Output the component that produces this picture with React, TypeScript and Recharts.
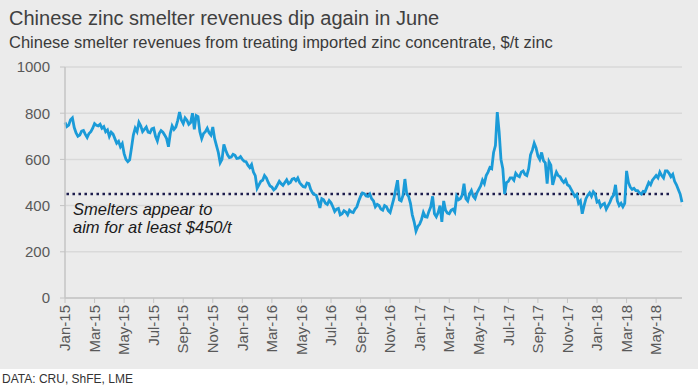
import { LineChart, Line, XAxis, YAxis, CartesianGrid, ReferenceLine } from 'recharts';

// Chinese smelter revenues from treating imported zinc concentrate, $/t zinc
// readings eight times a month (one row per month), starting Jan-15

const STEP = 0.125;

const REVENUE_2015 = [
  760, 742, 748, 772, 780, 738, 715, 700,
  705, 722, 725, 708, 695, 712, 720, 735,
  755, 748, 745, 752, 735, 742, 720, 728,
  700, 718, 710, 690, 670, 678, 655, 668,
  625, 600, 590, 598, 650, 705, 735, 720,
  760, 745, 720, 730, 740, 718, 715, 732,
  735, 700, 680, 712, 725, 718, 705, 690,
  655, 712, 745, 730, 740, 768, 805, 770,
  755, 780, 770, 752, 760, 800, 730, 790,
  785, 720, 690, 712, 720, 735, 715, 705,
  740, 690, 660, 630, 585, 600, 665, 640,
  620, 608, 610, 622, 618, 604, 605, 612,
];

const REVENUE_2016 = [
  600, 592, 590, 575, 565, 578, 545, 530,
  475, 490, 505, 510, 530, 520, 500, 485,
  480, 468, 475, 490, 505, 495, 488, 500,
  512, 495, 500, 515, 518, 508, 520, 500,
  490, 482, 480, 498, 495, 470, 455, 448,
  445, 420, 390, 430, 425, 410, 405, 422,
  412, 395, 375, 385, 388, 360, 365, 378,
  372, 360, 380, 372, 370, 385, 395, 420,
  440, 455, 452, 442, 440, 450, 430, 420,
  395, 405, 400, 385, 380, 400, 395, 378,
  370, 400, 430, 470, 510, 425, 420, 445,
  515, 450, 440, 410, 360, 330, 290, 310,
];

const REVENUE_2017 = [
  320, 340, 370, 352, 350, 375, 395, 440,
  365, 352, 370, 400, 330, 420, 380, 368,
  365, 380, 385, 372, 440, 425, 430, 445,
  495, 430, 420, 450, 465, 440, 430, 455,
  470, 485, 510, 495, 530, 545, 565, 560,
  630, 660, 805, 720, 600, 560, 450, 500,
  505, 520, 520, 510, 540, 530, 525, 545,
  550, 535, 530, 560, 620, 640, 670, 650,
  615, 600, 630, 595, 585, 495, 590, 575,
  490, 520, 545, 530, 525, 510, 500, 512,
  490, 485, 470, 455, 440, 448, 410, 420,
  365, 400, 430, 445, 455, 440, 460, 450,
];

const REVENUE_2018 = [
  415, 420, 395, 405, 410, 385, 400, 415,
  435, 445, 490, 420, 400, 410, 395, 410,
  550, 500, 480, 470, 475, 465, 465, 455,
  450, 462, 460, 480, 500, 490, 510, 520,
  530, 520, 545, 530, 520, 550, 550, 540,
  525, 535, 505, 490, 470, 450, 415,
];

const MONTH_TICKS = [0, 2, 4, 6, 8, 10, 12, 14, 16, 18, 20, 22, 24, 26, 28, 30, 32, 34, 36, 38, 40];
const MONTH_LABELS = [
  'Jan-15', 'Mar-15', 'May-15', 'Jul-15', 'Sep-15', 'Nov-15',
  'Jan-16', 'Mar-16', 'May-16', 'Jul-16', 'Sep-16', 'Nov-16',
  'Jan-17', 'Mar-17', 'May-17', 'Jul-17', 'Sep-17', 'Nov-17',
  'Jan-18', 'Mar-18', 'May-18',
];
const Y_TICKS = [0, 200, 400, 600, 800, 1000];

const TARGET = 450;
const TARGET_FROM = 0.1;
const TARGET_TO = 41;

const revenues = [...REVENUE_2015, ...REVENUE_2016, ...REVENUE_2017, ...REVENUE_2018];
const data = revenues.map((v, i) => ({ month: i * STEP, revenue: v }));

const FONT = '"Liberation Sans", Arial, sans-serif';
const AXIS_GREY = '#c4c4c4';

const MonthTick = ({ x, y, payload }: any) => {
  const idx = MONTH_TICKS.indexOf(payload.value);
  return (
    <text
      x={x}
      y={y}
      transform={`rotate(-90, ${x}, ${y})`}
      textAnchor="end"
      dy="0.35em"
      fontSize={15}
      fill="#595959"
      fontFamily={FONT}
    >
      {MONTH_LABELS[idx]}
    </text>
  );
};

export default function App() {
  return (
    <div style={{ width: 698, height: 387, position: 'relative', fontFamily: FONT, background: '#fff' }}>
      <style>{'body{margin:0}'}</style>
      <div style={{ position: 'absolute', left: 0, top: 0, width: 698, height: 369, background: '#ebebeb' }} />
      <div style={{ position: 'absolute', left: 9, top: 6, fontSize: 20, lineHeight: '24px', color: '#404040', whiteSpace: 'nowrap' }}>
        Chinese zinc smelter revenues dip again in June
      </div>
      <div style={{ position: 'absolute', left: 9, top: 32, fontSize: 16.5, lineHeight: '20px', color: '#3a3a3a', whiteSpace: 'nowrap' }}>
        Chinese smelter revenues from treating imported zinc concentrate, $/t zinc
      </div>

      <div style={{ position: 'absolute', left: 0, top: 0 }}>
        <LineChart width={698} height={369} data={data} margin={{ top: 67, right: 16, bottom: 11, left: 0 }}>
          <CartesianGrid vertical={false} stroke="#d9d9d9" strokeWidth={1.5} />
          <XAxis
            dataKey="month"
            type="number"
            domain={[0, 41.75]}
            ticks={MONTH_TICKS}
            interval={0}
            height={60}
            tick={<MonthTick />}
            tickSize={5}
            tickMargin={2}
            stroke={AXIS_GREY}
            axisLine={{ stroke: AXIS_GREY, strokeWidth: 1.5 }}
            tickLine={{ stroke: AXIS_GREY }}
          />
          <YAxis
            domain={[0, 1000]}
            ticks={Y_TICKS}
            width={65}
            tickSize={5}
            tickMargin={10}
            axisLine={{ stroke: AXIS_GREY, strokeWidth: 1.5 }}
            tickLine={{ stroke: AXIS_GREY }}
            tick={{ fontSize: 15, fill: '#595959', fontFamily: FONT }}
          />
          <ReferenceLine
            segment={[{ x: TARGET_FROM, y: TARGET }, { x: TARGET_TO, y: TARGET }]}
            stroke="#1c1c4c"
            strokeWidth={2.5}
            strokeDasharray="2.5 3.5"
          />
          <Line
            type="linear"
            dataKey="revenue"
            stroke="#1b9bd8"
            strokeWidth={2.8}
            dot={false}
            isAnimationActive={false}
          />
        </LineChart>
      </div>

      <div style={{ position: 'absolute', left: 73, top: 200, fontSize: 16.5, lineHeight: '18px', fontStyle: 'italic', color: '#1a1a1a', whiteSpace: 'nowrap' }}>
        Smelters appear to
        <br />
        aim for at least $450/t
      </div>

      <div style={{ position: 'absolute', left: 2, top: 372, fontSize: 12, lineHeight: '14px', color: '#333', fontFamily: '"Liberation Sans Narrow", ' + FONT, whiteSpace: 'nowrap' }}>
        DATA: CRU, ShFE, LME
      </div>
    </div>
  );
}
